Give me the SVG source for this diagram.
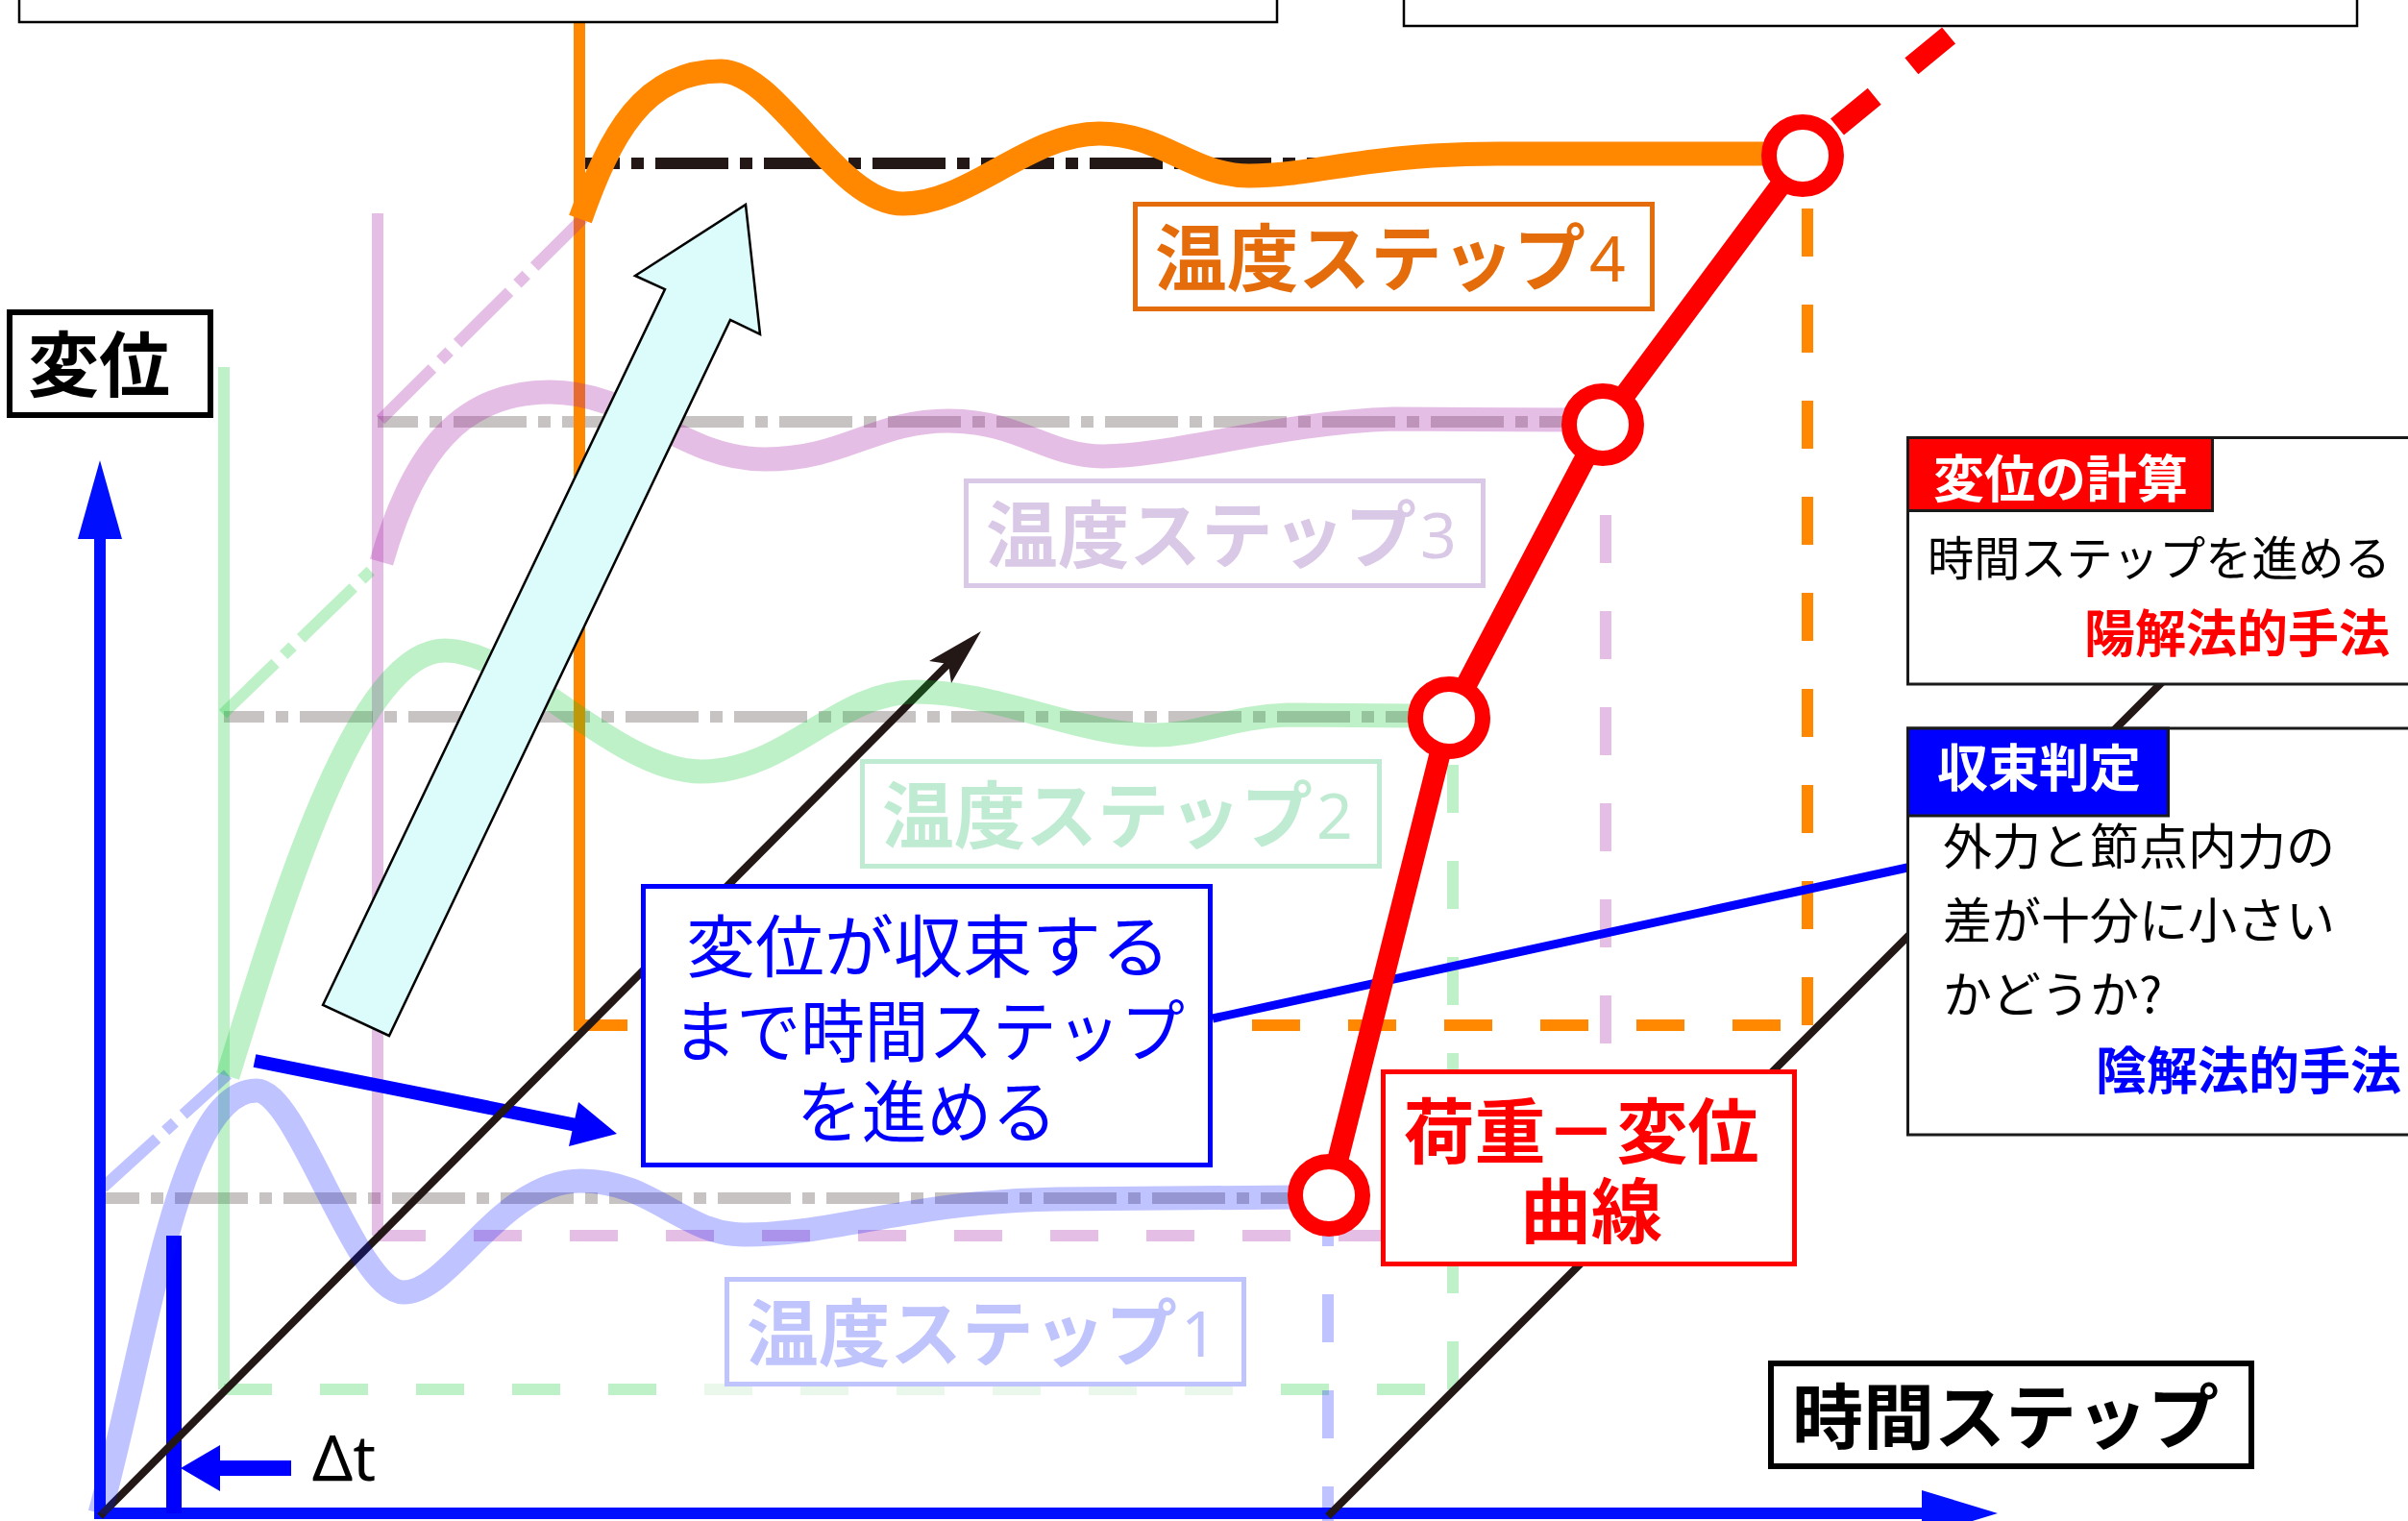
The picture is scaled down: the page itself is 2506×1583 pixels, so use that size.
<svg xmlns="http://www.w3.org/2000/svg" width="2506" height="1583" viewBox="0 0 2506 1583">
<defs>
<style>
.jp{font-family:"Noto Sans CJK JP","Noto Sans",sans-serif}
.b{font-weight:700}
.dig{font-family:"Noto Sans","Liberation Sans",sans-serif;font-weight:400}
.dd{fill:none;stroke-width:12;stroke-dasharray:76 12 13 12;stroke-dashoffset:34}
.dd0{fill:none;stroke-width:12;stroke-dasharray:76 12 13 12}
.ds{fill:none;stroke-width:12;stroke-dasharray:50 50}
.ln{fill:none;stroke-width:12}
.tb{stroke:rgb(0,16,255);stroke-opacity:0.25}
.tg{stroke:rgb(0,200,40);stroke-opacity:0.25}
.tp{stroke:rgb(170,40,170);stroke-opacity:0.3}
.cv{fill:none;stroke-width:25}
.blk{stroke:#231815;stroke-width:8;fill:none}
.ring{fill:#fff;stroke:#ff0000;stroke-width:16}
.box{fill:#fff}
</style>
</defs>
<rect x="0" y="0" width="2506" height="1583" fill="#fff"/>

<g id="connectors">
  <!-- converged level dash-dot lines -->
  <path class="dd" stroke="#c8c3c3" d="M103,1247 H1350"/>
  <path class="dd" stroke="#c8c3c3" d="M233,746 H1475"/>
  <path class="dd" stroke="#c8c3c3" d="M393,439 H1635"/>
  <path class="dd" stroke="#231815" d="M603,170 H1380"/>

  <!-- step start verticals -->
  <path class="ln tg" d="M233,382 V1446"/>
  <path class="ln tp" d="M393,222 V1286"/>

  <!-- dashed frames -->
  <path class="ds tg" d="M233,1446 H733"/>
  <path class="ds" stroke="#eaf8ec" d="M733,1446 H1283"/>
  <path class="ds tg" stroke-dashoffset="50" d="M1283,1446 H1512"/>
  <path class="ds tg" d="M1512,1446 V796"/>
  <path class="ds tp" d="M393,1286 H1671"/>
  <path class="ds tp" d="M1671,1286 V536"/>
  <path class="ds tb" d="M1382,1247 V1600"/>
  <path class="ds" stroke="#ff8800" d="M603,1067 H1881"/>
  <path class="ds" stroke="#ff8800" d="M1881,1067 V216"/>
  <path class="ln" stroke="#ff8800" d="M603,20 V1073"/>

  <!-- initial dash-dot slopes -->
  <path class="dd0 tb" d="M107,1236 L237,1118"/>
  <path class="dd0 tg" d="M232,743 L393,587"/>
  <path class="dd0 tp" d="M396,437 L607,227"/>

  <!-- blue arrow into the note box -->
  <path d="M265,1104 L600,1171" stroke="#0000ff" stroke-width="14" fill="none"/>
  <polygon points="642,1180 602,1147 592,1193" fill="#0000ff"/>

  <!-- axes -->
  <path d="M104,555 V1581" stroke="#0010ff" stroke-width="12" fill="none"/>
  <polygon points="104,479 81,561 127,561" fill="#0010ff"/>
  <path d="M98,1575 H2005" stroke="#0010ff" stroke-width="12" fill="none"/>
  <polygon points="2079,1575 2000,1551 2000,1599" fill="#0010ff"/>

  <!-- delta t marker -->
  <path d="M181,1286 V1575" stroke="#0000ff" stroke-width="16" fill="none"/>
  <path d="M226,1528 H303" stroke="#0000ff" stroke-width="16" fill="none"/>
  <polygon points="188,1528 229,1504 229,1552" fill="#0000ff"/>

  <!-- time diagonals -->
  <path class="blk" d="M104,1578 L987,691"/>
  <polygon points="1021,657 967,688 987,691 990,711" fill="#231815"/>
  <path class="blk" d="M1382,1578 L2400,560"/>

  <!-- response curves -->
  <path class="cv tb" d="M104,1575 C155,1390 185,1135 267,1135 C310,1135 370,1345 420,1345 C470,1345 520,1229 605,1229 C680,1229 710,1285 775,1285 C870,1285 950,1250 1100,1248 L1350,1246"/>
  <path class="cv tg" d="M237,1120 C290,950 370,677 463,677 C540,677 640,803 730,803 C820,803 870,720 953,720 C1040,720 1120,765 1202,765 C1250,765 1280,746 1340,744 L1475,745"/>
  <path class="cv tp" d="M397,585 C430,470 480,408 572,408 C660,408 710,478 796,478 C880,478 910,438 987,438 C1060,438 1090,475 1148,475 C1220,475 1330,440 1450,436 L1640,437"/>
  <path class="cv" stroke="#ff8800" d="M604,228 C635,140 670,74 750,74 C810,74 870,212 940,212 C1010,212 1070,139 1144,139 C1210,139 1240,183 1300,183 C1370,183 1420,160 1560,160 L1845,160"/>

  <!-- big cyan arrow -->
  <polygon points="336,1046 692,301 661,287 776,213 791,348 760,333 405,1078" fill="#dcfcfc" stroke="#000" stroke-width="2.5" stroke-linejoin="miter"/>

  <!-- blue leader to convergence box -->
  <path d="M1262,1060 L1985,903" stroke="#0000ff" stroke-width="9" fill="none"/>

  <!-- load-displacement curve -->
  <path d="M1383,1244 L1508,747 L1668,442 L1876,162" stroke="#ff0000" stroke-width="22" fill="none" stroke-linejoin="round"/>
  <path d="M1912,132 L2144,-58" stroke="#ff0000" stroke-width="22" fill="none" stroke-dasharray="50 50"/>
</g>

<g id="point-1"><circle class="ring" cx="1383" cy="1244" r="35"/></g>
<g id="point-2"><circle class="ring" cx="1508" cy="747" r="35"/></g>
<g id="point-3"><circle class="ring" cx="1668" cy="442" r="35"/></g>
<g id="point-4"><circle class="ring" cx="1876" cy="162" r="35"/></g>

<g id="top-box-left"><rect class="box" x="20" y="-50" width="1309" height="73" stroke="#000" stroke-width="2.5"/></g>
<g id="top-box-right"><rect class="box" x="1461" y="-50" width="992" height="77" stroke="#000" stroke-width="2.5"/></g>

<g id="label-step4">
  <rect class="box" x="1181.5" y="212.5" width="538" height="109" stroke="#e46c0a" stroke-width="5"/>
  <text class="jp b" x="1202" y="297" font-size="76" fill="#e46c0a" textLength="448" lengthAdjust="spacingAndGlyphs">温度ステップ</text>
  <text class="dig" x="1654" y="293" font-size="66" fill="#e46c0a">4</text>
</g>
<g id="label-step3">
  <rect class="box" x="1005.5" y="500.5" width="538" height="109" stroke="#d9c8e6" stroke-width="5"/>
  <text class="jp b" x="1026" y="585" font-size="76" fill="#d9c8e6" textLength="448" lengthAdjust="spacingAndGlyphs">温度ステップ</text>
  <text class="dig" x="1478" y="581" font-size="66" fill="#d9c8e6">3</text>
</g>
<g id="label-step2">
  <rect class="box" x="897.5" y="792.5" width="538" height="109" stroke="#c0ebd3" stroke-width="5"/>
  <text class="jp b" x="918" y="877" font-size="76" fill="#c0ebd3" textLength="448" lengthAdjust="spacingAndGlyphs">温度ステップ</text>
  <text class="dig" x="1370" y="873" font-size="66" fill="#c0ebd3">2</text>
</g>
<g id="label-step1">
  <rect class="box" x="756.5" y="1331.5" width="538" height="109" stroke="#c0c4fc" stroke-width="5"/>
  <text class="jp b" x="777" y="1416" font-size="76" fill="#c0c4fc" textLength="448" lengthAdjust="spacingAndGlyphs">温度ステップ</text>
  <text class="dig" x="1229" y="1412" font-size="66" fill="#c0c4fc">1</text>
</g>

<g id="axis-label-displacement">
  <rect class="box" x="10" y="325" width="209" height="107" stroke="#000" stroke-width="6"/>
  <text class="jp b" x="29" y="407" font-size="74" fill="#000">変位</text>
</g>
<g id="axis-label-time">
  <rect class="box" x="1843" y="1419" width="500" height="107" stroke="#000" stroke-width="6"/>
  <text class="jp b" x="1865" y="1502" font-size="74" fill="#000">時間ステップ</text>
</g>
<g id="delta-t">
  <text x="325" y="1541" font-family="'Noto Sans','Liberation Sans',sans-serif" font-size="66" fill="#000">Δt</text>
</g>

<g id="note-advance">
  <rect class="box" x="669.5" y="922.5" width="590" height="290" stroke="#0000ff" stroke-width="5"/>
  <text class="jp" font-size="71" fill="#0000ff">
    <tspan x="714" y="1011" textLength="504" lengthAdjust="spacingAndGlyphs">変位が収束する</tspan>
    <tspan x="700" y="1099" textLength="533" lengthAdjust="spacingAndGlyphs">まで時間ステップ</tspan>
    <tspan x="829" y="1183" textLength="271" lengthAdjust="spacingAndGlyphs">を進める</tspan>
  </text>
</g>

<g id="label-load-displacement">
  <rect class="box" x="1439.5" y="1115.5" width="428" height="200" stroke="#ff0000" stroke-width="5"/>
  <text class="jp b" font-size="74" fill="#ff0000" text-anchor="middle">
    <tspan x="1654" y="1205">荷重－変位</tspan>
    <tspan x="1656" y="1288">曲線</tspan>
  </text>
</g>

<g id="box-displacement-calc">
  <rect class="box" x="1985.5" y="455.5" width="600" height="256.5" stroke="#1a1a1a" stroke-width="3"/>
  <rect x="1985.5" y="455.5" width="317" height="76" fill="#ff0000" stroke="#1a1a1a" stroke-width="3"/>
  <text class="jp b" x="2012" y="518" font-size="53" fill="#fff">変位の計算</text>
  <text class="jp" x="2006" y="599" font-size="49" fill="#000" textLength="482" lengthAdjust="spacingAndGlyphs">時間ステップを進める</text>
  <text class="jp b" x="2487" y="679" font-size="53" fill="#ff0000" text-anchor="end">陽解法的手法</text>
</g>

<g id="box-convergence">
  <rect class="box" x="1985.5" y="758" width="600" height="423" stroke="#1a1a1a" stroke-width="3"/>
  <rect x="1985.5" y="758" width="271" height="91" fill="#0000ff" stroke="#1a1a1a" stroke-width="3"/>
  <text class="jp b" x="2016" y="819" font-size="53" fill="#fff">収束判定</text>
  <text class="jp" font-size="51" fill="#000">
    <tspan x="2022" y="900">外力と節点内力の</tspan>
    <tspan x="2022" y="977">差が十分に小さい</tspan>
    <tspan x="2022" y="1054">かどうか?</tspan>
  </text>
  <text class="jp b" x="2499" y="1134" font-size="53" fill="#0000ff" text-anchor="end">陰解法的手法</text>
</g>
</svg>
